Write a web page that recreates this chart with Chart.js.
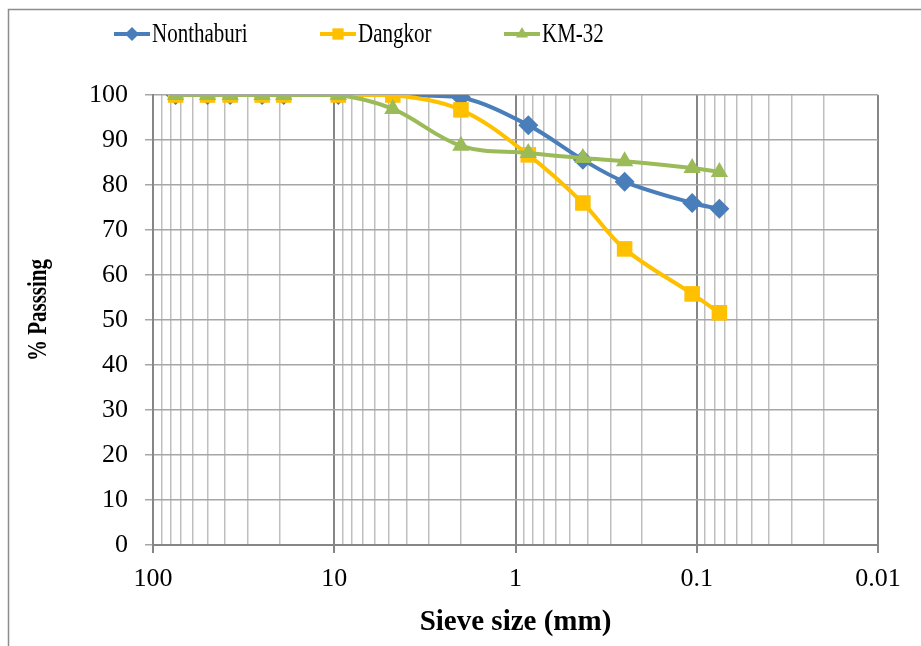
<!DOCTYPE html>
<html>
<head>
<meta charset="utf-8">
<script src="https://cdn.jsdelivr.net/npm/chart.js@4/dist/chart.umd.min.js"></script>
<style>
  body { margin: 0; background: #fff; }
  canvas { display: block; }
</style>
</head>
<body>
<canvas id="grading" width="921" height="646"></canvas>
<script>
// sieve openings (mm)
const sieveSizes = [75, 50, 37.5, 25, 19, 9.5, 4.75, 2, 0.85, 0.425, 0.25, 0.106, 0.075];

// % passing per site
const nonthaburi = [100, 100, 100, 100, 100, 100, 100, 99.5, 93.3, 85.6, 80.7, 76.0, 74.7];
const dangkor    = [100, 100, 100, 100, 100, 100, 100, 96.7, 86.7, 76.0, 65.8, 55.8, 51.6];
const km32       = [100, 100, 100, 100, 100, 100, 96.9, 88.7, 87.1, 86.0, 85.3, 83.8, 82.9];

const seriesNames = ['Nonthaburi', 'Dangkor', 'KM-32'];
const seriesColors = ['#4a7ebb', '#ffc000', '#9bbb59'];
const seriesMarkers = ['rectRot', 'rect', 'triangle'];
const markerSizes = [10, 11, 10];

// log axis: decade lines plus 2..9 minor lines
const decades = [0.01, 0.1, 1, 10, 100];
const minorSteps = [2, 3, 4, 5, 6, 7, 8, 9];
const sieveTicks = [];
decades.forEach(d => {
  sieveTicks.push(d);
  if (d < 100) minorSteps.forEach(m => sieveTicks.push(+(d * m).toPrecision(3)));
});

const serif = '"Liberation Serif", "Times New Roman", serif';

const isDecade = v => Math.abs(Math.log10(v) - Math.round(Math.log10(v))) < 1e-6;

// outer chart-area frame (top and left edges visible)
const framePlugin = {
  id: 'frame',
  beforeDraw(chart) {
    const c = chart.ctx;
    c.save();
    c.strokeStyle = '#8c8c8c';
    c.lineWidth = 1.5;
    c.beginPath();
    c.moveTo(8.5, 646);
    c.lineTo(8.5, 9.5);
    c.lineTo(921, 9.5);
    c.stroke();
    c.restore();
  }
};

// Excel style legend (line + marker + condensed text) and the y title
const legendPlugin = {
  id: 'xlLegend',
  afterDraw(chart) {
    const c = chart.ctx;
    const lineX = [114, 320, 504];
    const y = 34;
    c.save();
    seriesNames.forEach((name, i) => {
      const x0 = lineX[i];
      c.strokeStyle = seriesColors[i];
      c.lineWidth = 4;
      c.beginPath();
      c.moveTo(x0, y);
      c.lineTo(x0 + 36, y);
      c.stroke();
      c.fillStyle = seriesColors[i];
      Chart.helpers.drawPoint(c, {pointStyle: seriesMarkers[i], radius: markerSizes[i] - 3, borderWidth: 0}, x0 + 18, y);
      c.save();
      c.translate(x0 + 38, y);
      c.scale(0.75, 1);
      c.fillStyle = '#000';
      c.font = '28px ' + serif;
      c.textBaseline = 'middle';
      c.fillText(name, 0, 1);
      c.restore();
    });

    c.save();
    c.translate(39, 310);
    c.rotate(-Math.PI / 2);
    c.scale(0.75, 1);
    c.fillStyle = '#000';
    c.font = 'bold 28px ' + serif;
    c.textAlign = 'center';
    c.textBaseline = 'middle';
    c.fillText('% Passsing', 0, 0);
    c.restore();
    c.restore();
  }
};

const siteData = [nonthaburi, dangkor, km32];

new Chart(document.getElementById('grading'), {
  type: 'line',
  data: {
    datasets: siteData.map((vals, i) => ({
      label: seriesNames[i],
      data: sieveSizes.map((s, k) => ({x: s, y: vals[k]})),
      borderColor: seriesColors[i],
      backgroundColor: seriesColors[i],
      borderWidth: 4,
      pointStyle: seriesMarkers[i],
      pointRadius: markerSizes[i],
      pointBorderWidth: 0,
      tension: 0.35,
      order: 2 - i
    }))
  },
  options: {
    responsive: false,
    animation: false,
    layout: { padding: { top: 95, left: 8, right: 43, bottom: 0 } },
    plugins: {
      legend: { display: false },
      tooltip: { enabled: false }
    },
    scales: {
      x: {
        type: 'logarithmic',
        reverse: true,
        min: 0.01,
        max: 100,
        afterBuildTicks: scale => { scale.ticks = sieveTicks.map(v => ({value: v})); },
        afterFit: scale => { scale.height = 101; },
        ticks: {
          autoSkip: false,
          maxRotation: 0,
          padding: 11,
          color: '#000',
          font: { family: serif, size: 26 },
          callback: v => isDecade(v) ? String(+v.toPrecision(3)) : ''
        },
        grid: {
          color: ctx => isDecade(ctx.tick.value) ? '#868686' : '#bfbfbf',
          tickColor: ctx => isDecade(ctx.tick.value) ? '#868686' : 'rgba(0,0,0,0)',
          lineWidth: ctx => isDecade(ctx.tick.value) ? 2 : 1.5,
          tickLength: 8
        },
        border: { color: '#868686', width: 2 },
        title: {
          display: true,
          text: 'Sieve size (mm)',
          color: '#000',
          font: { family: serif, size: 29, weight: 'bold' },
          padding: { top: 0, bottom: 6 }
        }
      },
      y: {
        min: 0,
        max: 100,
        afterFit: scale => { scale.width = 145; },
        ticks: {
          stepSize: 10,
          padding: 17,
          color: '#000',
          font: { family: serif, size: 26 }
        },
        grid: { color: '#a6a6a6', lineWidth: 1.5, tickLength: 8, tickColor: '#a6a6a6' },
        border: { color: '#868686', width: 2 }
      }
    }
  },
  plugins: [framePlugin, legendPlugin]
});
</script>
</body>
</html>
